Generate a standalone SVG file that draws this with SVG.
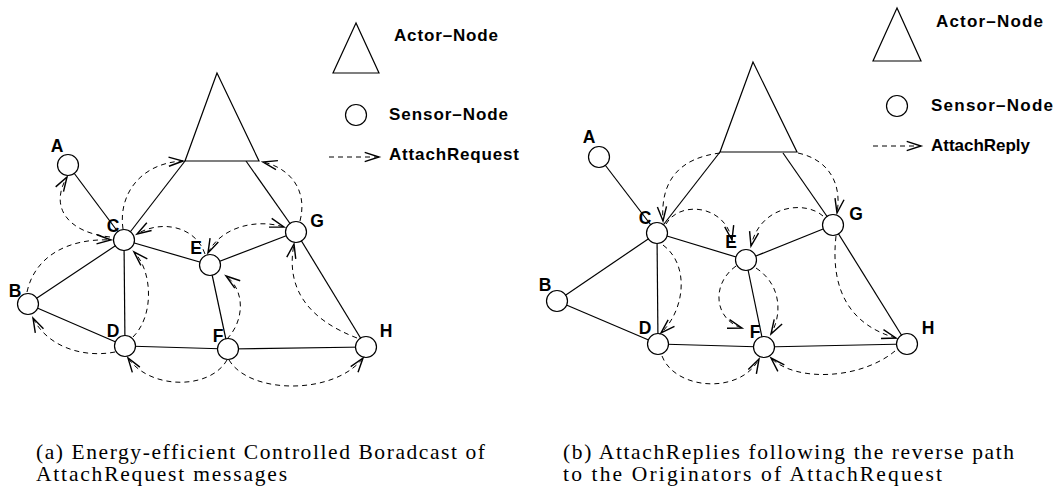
<svg xmlns="http://www.w3.org/2000/svg" width="1057" height="487" viewBox="0 0 1057 487">
<defs>
<marker id="ah" markerUnits="userSpaceOnUse" markerWidth="20" markerHeight="20" refX="0" refY="0" viewBox="-12 -6 14 12" orient="auto-start-reverse" overflow="visible">
<path d="M-10,-3.2 L0,0 L-10,3.2" fill="none" stroke="#000" stroke-width="1"/>
</marker>
<style>
.e{stroke:#000;stroke-width:1.2;fill:none}
.n{stroke:#000;stroke-width:1.2;fill:#fff}
.t{stroke:#000;stroke-width:1.2;fill:#fff}
.d{stroke:#000;stroke-width:1;fill:none;stroke-dasharray:5 4;marker-end:url(#ah)}
.l{font-family:"Liberation Sans",Arial,sans-serif;font-weight:bold;font-size:17.5px;fill:#000}
.lg{font-family:"Liberation Sans",Arial,sans-serif;font-weight:bold;font-size:17px;fill:#000}
.c{font-family:"Liberation Serif","Times New Roman",serif;font-size:21.5px;fill:#000}
</style>
</defs>
<rect width="1057" height="487" fill="#fff"/>

<!-- ===== Diagram (a) ===== -->
<g id="a-edges">
<line class="e" x1="68" y1="165" x2="124" y2="240"/>
<line class="e" x1="124" y1="240" x2="185" y2="161"/>
<line class="e" x1="124" y1="240" x2="28" y2="304"/>
<line class="e" x1="124" y1="240" x2="125" y2="346"/>
<line class="e" x1="124" y1="240" x2="210" y2="265"/>
<line class="e" x1="210" y1="265" x2="296" y2="232"/>
<line class="e" x1="210" y1="265" x2="228" y2="349"/>
<line class="e" x1="28" y1="304" x2="125" y2="346"/>
<line class="e" x1="125" y1="346" x2="228" y2="349"/>
<line class="e" x1="228" y1="349" x2="366" y2="347"/>
<line class="e" x1="296" y1="232" x2="366" y2="347"/>
<line class="e" x1="296" y1="232" x2="246" y2="161"/>
</g>
<g id="a-actor"><polygon class="t" points="217,73 185,161 259,161"/></g>
<g id="a-A"><circle class="n" cx="68" cy="165" r="10.5"/><text class="l" x="57" y="152" text-anchor="middle">A</text></g>
<g id="a-B"><circle class="n" cx="28" cy="304" r="10.5"/><text class="l" x="15" y="297" text-anchor="middle">B</text></g>
<g id="a-C"><circle class="n" cx="124" cy="240" r="10.5"/><text class="l" x="113" y="232" text-anchor="middle">C</text></g>
<g id="a-D"><circle class="n" cx="125" cy="346" r="10.5"/><text class="l" x="113" y="337" text-anchor="middle">D</text></g>
<g id="a-E"><circle class="n" cx="210" cy="265" r="10.5"/><text class="l" x="196" y="254" text-anchor="middle">E</text></g>
<g id="a-F"><circle class="n" cx="228" cy="349" r="10.5"/><text class="l" x="218" y="342" text-anchor="middle">F</text></g>
<g id="a-G"><circle class="n" cx="296" cy="232" r="10.5"/><text class="l" x="317" y="227" text-anchor="middle">G</text></g>
<g id="a-H"><circle class="n" cx="366" cy="347" r="10.5"/><text class="l" x="386" y="337" text-anchor="middle">H</text></g>
<g id="a-connectors">
<path class="d" d="M110,237 C65,232 50,205 67,177"/>
<path class="d" d="M123,229 C118,195 140,163 183,161"/>
<path class="d" d="M27,292 C35,255 70,238 111,240"/>
<path class="d" d="M115,352 C85,358 48,348 33,318"/>
<path class="d" d="M133,337 C155,315 152,270 134,252"/>
<path class="d" d="M205,254 C195,225 160,220 137,234"/>
<path class="d" d="M208,253 C220,228 255,218 284,227" marker-start="url(#ah)"/>
<path class="d" d="M227,339 C245,320 245,290 226,276"/>
<path class="d" d="M227,360 C210,390 150,390 128,358"/>
<path class="d" d="M229,360 C250,395 335,395 363,358"/>
<path class="d" d="M357,338 C310,320 285,290 294,244"/>
<path class="d" d="M300,221 C308,190 290,168 263,162"/>
</g>
<g id="a-legend">
<polygon class="t" points="356,23 333,73 379,73"/>
<text class="lg" x="394" y="41" textLength="104">Actor–Node</text>
<circle class="n" cx="356" cy="115" r="10.5"/>
<text class="lg" x="389" y="120" textLength="119">Sensor–Node</text>
<path class="d" d="M329,157 L379,157"/>
<text class="lg" x="389" y="160" textLength="130">AttachRequest</text>
</g>
<g id="a-caption">
<text class="c" x="36" y="459" textLength="449">(a) Energy-efficient Controlled Boradcast of</text>
<text class="c" x="36" y="481" textLength="251">AttachRequest messages</text>
</g>

<!-- ===== Diagram (b) ===== -->
<g id="b-edges">
<line class="e" x1="599" y1="157" x2="657" y2="233"/>
<line class="e" x1="657" y1="233" x2="720" y2="152"/>
<line class="e" x1="657" y1="233" x2="557" y2="301"/>
<line class="e" x1="657" y1="233" x2="658" y2="344"/>
<line class="e" x1="657" y1="233" x2="746" y2="260"/>
<line class="e" x1="746" y1="260" x2="833" y2="225"/>
<line class="e" x1="746" y1="260" x2="764" y2="347"/>
<line class="e" x1="557" y1="301" x2="658" y2="344"/>
<line class="e" x1="658" y1="344" x2="764" y2="347"/>
<line class="e" x1="764" y1="347" x2="907" y2="344"/>
<line class="e" x1="833" y1="225" x2="907" y2="344"/>
<line class="e" x1="833" y1="225" x2="783" y2="153"/>
</g>
<g id="b-actor"><polygon class="t" points="753,62 720,152 797,152"/></g>
<g id="b-A"><circle class="n" cx="599" cy="157" r="10.5"/><text class="l" x="589" y="143" text-anchor="middle">A</text></g>
<g id="b-B"><circle class="n" cx="557" cy="301" r="10.5"/><text class="l" x="545" y="291" text-anchor="middle">B</text></g>
<g id="b-C"><circle class="n" cx="657" cy="233" r="10.5"/><text class="l" x="645" y="224" text-anchor="middle">C</text></g>
<g id="b-D"><circle class="n" cx="658" cy="344" r="10.5"/><text class="l" x="645" y="334" text-anchor="middle">D</text></g>
<g id="b-E"><circle class="n" cx="746" cy="260" r="10.5"/><text class="l" x="731" y="248" text-anchor="middle">E</text></g>
<g id="b-F"><circle class="n" cx="764" cy="347" r="10.5"/><text class="l" x="755" y="338" text-anchor="middle">F</text></g>
<g id="b-G"><circle class="n" cx="833" cy="225" r="10.5"/><text class="l" x="856" y="220" text-anchor="middle">G</text></g>
<g id="b-H"><circle class="n" cx="907" cy="344" r="10.5"/><text class="l" x="928" y="334" text-anchor="middle">H</text></g>
<g id="b-connectors">
<path class="d" d="M720,153 C680,158 660,180 663,221"/>
<path class="d" d="M666,224 C680,200 725,205 732,240"/>
<path class="d" d="M823,216 C805,200 760,205 751,246"/>
<path class="d" d="M798,153 C830,160 842,185 837,213"/>
<path class="d" d="M663,245 C690,265 685,310 661,333"/>
<path class="d" d="M736,266 C710,285 715,320 742,328"/>
<path class="d" d="M756,268 C782,285 782,315 771,334"/>
<path class="d" d="M662,356 C675,390 740,395 759,359"/>
<path class="d" d="M895,351 C860,380 795,382 771,358"/>
<path class="d" d="M836,236 C830,290 850,325 896,338"/>
</g>
<g id="b-legend">
<polygon class="t" points="897,8 873,61 921,61"/>
<text class="lg" x="936" y="27" textLength="107">Actor–Node</text>
<circle class="n" cx="897" cy="106" r="10.5"/>
<text class="lg" x="931" y="111" textLength="122">Sensor–Node</text>
<path class="d" d="M873,146 L921,146"/>
<text class="lg" x="931" y="151" textLength="99">AttachReply</text>
</g>
<g id="b-caption">
<text class="c" x="563" y="459" textLength="451">(b) AttachReplies following the reverse path</text>
<text class="c" x="563" y="481" textLength="379">to the Originators of AttachRequest</text>
</g>
</svg>
